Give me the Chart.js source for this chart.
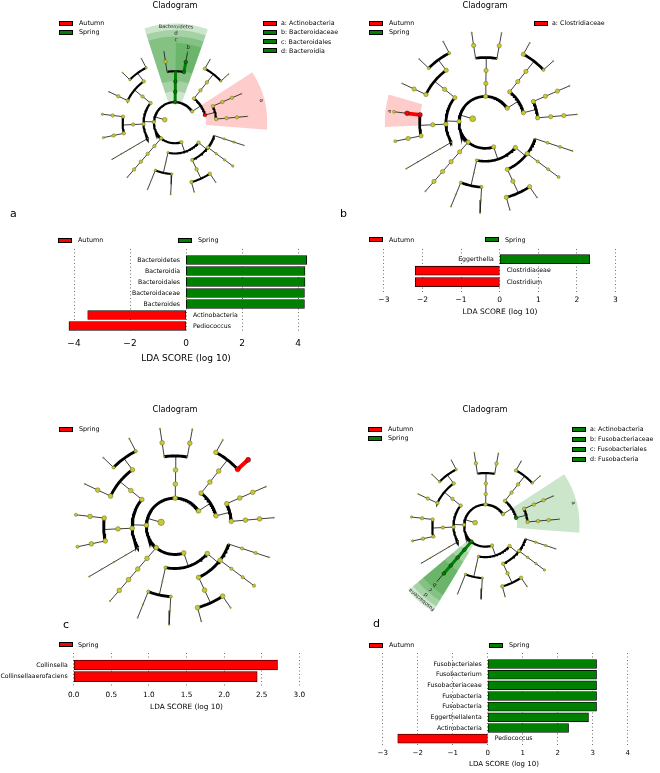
<!DOCTYPE html>
<html>
<head>
<meta charset="utf-8">
<script src="https://cdn.jsdelivr.net/npm/chart.js@4.4.0/dist/chart.umd.min.js"></script>
<style>
  body { margin: 0; background: #fff; font-family: "DejaVu Sans", sans-serif; }
  #page { position: relative; width: 660px; height: 773px; overflow: hidden; background: #fff; }
  canvas { position: absolute; }
  .txt { position: absolute; white-space: nowrap; color: #000; line-height: 1; will-change: transform; }
  .sw { position: absolute; width: 14px; height: 5px; box-sizing: border-box; border: 1px solid #000; }
</style>
</head>
<body>
<div id="page"></div>
<script>
// class colours in the order LEfSe assigns them
const palette = ['#ff0000', '#008000'];

// panel a
const classesA = ['Autumn', 'Spring'];
const taxaA = ['Bacteroidetes', 'Bacteroidia', 'Bacteroidales', 'Bacteroidaceae', 'Bacteroides', 'Actinobacteria', 'Pediococcus'];
const ldaA = [4.31, 4.25, 4.25, 4.23, 4.23, -3.51, -4.18];
const groupA = ['Spring', 'Spring', 'Spring', 'Spring', 'Spring', 'Autumn', 'Autumn'];
const ticksA = [-4, -2, 0, 2, 4];
const cladeA = [['Autumn', 3, 'Actinobacteria'], ['Spring', 2, 'Bacteroidetes'], ['Spring', 3, 'Bacteroidia'],
                ['Spring', 4, 'Bacteroidales'], ['Spring', 5, 'Bacteroidaceae'], ['Spring', 6, 'Bacteroides']];
const keysA = ['Actinobacteria', 'Bacteroidaceae', 'Bacteroidales', 'Bacteroidia'];

// panel b
const classesB = ['Autumn', 'Spring'];
const taxaB = ['Eggerthella', 'Clostridiaceae', 'Clostridium'];
const ldaB = [2.33, -2.19, -2.19];
const groupB = ['Spring', 'Autumn', 'Autumn'];
const ticksB = [-3, -2, -1, 0, 1, 2, 3];
const cladeB = [['Autumn', 5, 'Clostridiaceae'], ['Autumn', 6, 'Clostridium']];
const keysB = ['Clostridiaceae'];

// panel c
const classesC = ['Spring'];
const taxaC = ['Collinsella', 'Collinsellaaerofaciens'];
const ldaC = [2.71, 2.44];
const groupC = ['Spring', 'Spring'];
const ticksC = [0, 0.5, 1, 1.5, 2, 2.5, 3];
const cladeC = [['Spring', 6, 'Collinsella'], ['Spring', 7, 'Collinsella aerofaciens']];
const keysC = [];

// panel d
const classesD = ['Autumn', 'Spring'];
const taxaD = ['Fusobacteriales', 'Fusobacterium', 'Fusobacteriaceae', 'Fusobacteria', 'Fusobacteria', 'Eggerthellalenta', 'Actinobacteria', 'Pediococcus'];
const ldaD = [3.11, 3.11, 3.11, 3.11, 3.11, 2.88, 2.31, -2.57];
const groupD = ['Spring', 'Spring', 'Spring', 'Spring', 'Spring', 'Spring', 'Spring', 'Autumn'];
const ticksD = [-3, -2, -1, 0, 1, 2, 3, 4];
const cladeD = [['Spring', 3, 'Actinobacteria'], ['Spring', 2, 'Fusobacteria'], ['Spring', 3, 'Fusobacteria'],
                ['Spring', 4, 'Fusobacteriales'], ['Spring', 5, 'Fusobacteriaceae'], ['Spring', 6, 'Fusobacterium']];
const keysD = ['Actinobacteria', 'Fusobacteriaceae', 'Fusobacteriales', 'Fusobacteria'];

// taxonomy shared by the four cladograms: [name, node size class, children]
const taxonomy =
  ['Bacteria', 3, [
    ['Actinobacteria', 2, [
      ['Actinobacteria', 2, [
        ['Actinomycetales', 2, [['Actinomycetaceae', 2, [['Actinomyces', 2, [['Actinomyces odontolyticus', 0]]]]]]],
        ['Bifidobacteriales', 2, [['Bifidobacteriaceae', 2, [['Bifidobacterium', 2, [['Bifidobacterium longum', 0]]]]]]]
      ]],
      ['Coriobacteriia', 2, [
        ['Coriobacteriales', 2, [['Coriobacteriaceae', 2, [
          ['Collinsella', 1, [['Collinsella aerofaciens', 0]]],
          ['Eggerthella', 2, [['Eggerthella lenta', 0]]]
        ]]]]
      ]]
    ]],
    ['Bacteroidetes', 2, [
      ['Bacteroidia', 2, [
        ['Bacteroidales', 2, [
          ['Bacteroidaceae', 0, [['Bacteroides', 2, [['Bacteroides uniformis', 0]]]]],
          ['Prevotellaceae', 0, [['Prevotella', 2, [['Prevotella copri', 0]]]]]
        ]]
      ]]
    ]],
    ['Firmicutes', 2, [
      ['Negativicutes', 2, [
        ['Selenomonadales', 2, [
          ['Veillonellaceae', 2, [['Megasphaera', 1, [['Megasphaera elsdenii', 0]]], ['Veillonella', 1, [['Veillonella parvula', 0]]]]],
          ['Acidaminococcaceae', 2, [['Phascolarctobacterium', 2, [['Phascolarctobacterium faecium', 0]]]]]
        ]]
      ]],
      ['Clostridia', 2, [
        ['Clostridiales', 2, [
          ['Clostridiaceae', 2, [['Clostridium', 2, [['Clostridium perfringens', 1]]]]],
          ['Lachnospiraceae', 2, [['Blautia', 2, [['Blautia obeum', 1]]]]]
        ]]
      ]],
      ['Bacilli', 0, [['Lactobacillales', 0, [['Lactobacillaceae', 0, [['Pediococcus', 0, [['Pediococcus acidilactici', 0]]]]]]]]]
    ]],
    ['Fusobacteria', 2, [
      ['Fusobacteria', 2, [['Fusobacteriales', 2, [['Fusobacteriaceae', 2, [['Fusobacterium', 2, [['Fusobacterium nucleatum', 0]]]]]]]]]
    ]],
    ['Proteobacteria', 2, [
      ['Betaproteobacteria', 1, [
        ['Burkholderiales', 0, [
          ['Sutterellaceae', 1, [['Sutterella', 0, [['Sutterella wadsworthensis', 0]]]]],
          ['Alcaligenaceae', 1, [['Parasutterella', 0, [['Parasutterella excrementihominis', 0]]]]]
        ]]
      ]],
      ['Gammaproteobacteria', 2, [
        ['Enterobacteriales', 2, [['Enterobacteriaceae', 2, [['Escherichia', 2, [['Escherichia coli', 0]]], ['Klebsiella', 2, [['Klebsiella pneumoniae', 0]]]]]]],
        ['Pasteurellales', 2, [['Pasteurellaceae', 1, [['Haemophilus', 1, [['Haemophilus parainfluenzae', 1]]]]]]],
        ['Pseudomonadales', 0, [['Moraxellaceae', 1, [['Acinetobacter', 1, [['Acinetobacter sp.', 0]]]]]]]
      ]]
    ]]
  ]];

// ---------------- layout ----------------
const leafStart = 5, leafStep = 18.7;
const D = Math.PI / 180;
const page = document.getElementById('page');

function makeCanvas(left, top, w, h) {
  const c = document.createElement('canvas');
  c.width = w; c.height = h;
  c.style.left = left + 'px'; c.style.top = top + 'px';
  c.style.width = w + 'px'; c.style.height = h + 'px';
  page.appendChild(c);
  return c;
}
function text(str, x, y, size, align) {
  const d = document.createElement('div');
  d.className = 'txt';
  d.textContent = str;
  d.style.left = x + 'px'; d.style.top = y + 'px'; d.style.fontSize = size + 'px';
  const tx = align === 'center' ? '-50%' : align === 'right' ? '-100%' : '0';
  d.style.transform = 'translate(' + tx + ',-50%)';
  page.appendChild(d);
}
function swatch(x, y, color) {
  const d = document.createElement('div');
  d.className = 'sw';
  d.style.left = x + 'px'; d.style.top = (y - 2.5) + 'px'; d.style.background = color;
  page.appendChild(d);
}

function buildTree(spec, level) {
  return { name: spec[0], size: spec[1], level: level, kids: (spec[2] || []).map(s => buildTree(s, level + 1)) };
}
function placeTree(root) {
  let idx = 0;
  (function walk(n) {
    if (!n.kids.length) { n.angle = leafStart + leafStep * idx++; n.lo = n.hi = n.angle; return; }
    n.kids.forEach(walk);
    n.angle = n.kids.reduce((s, k) => s + k.angle, 0) / n.kids.length;
    n.lo = n.kids[0].lo; n.hi = n.kids[n.kids.length - 1].hi;
  })(root);
  return root;
}

function cladogram(box, classes, clade, keys) {
  const root = placeTree(buildTree(taxonomy, 1));
  const all = [];
  (function f(n) { all.push(n); n.kids.forEach(f); })(root);
  const hl = new Map();
  clade.forEach(([cls, lvl, name]) => {
    const node = all.find(n => n.level === lvl && n.name === name);
    if (node) hl.set(node, palette[classes.indexOf(cls)]);
  });

  const s = box.step;
  const pol = (r, deg) => ({ x: r * Math.cos(deg * D), y: r * Math.sin(deg * D) });
  const gap = { x: NaN, y: NaN };
  const thin = [], arcs = [], bold = {};
  all.forEach(n => {
    if (!n.kids.length) return;
    const r0 = n.level * s, r1 = (n.level + 1) * s;
    const seg = [pol(r0, n.angle), pol(r1, n.angle), gap];
    if (hl.has(n) && n.kids.some(k => hl.has(k))) {
      const c = hl.get(n);
      (bold[c] = bold[c] || []).push(...seg);
    } else {
      thin.push(...seg);
    }
    if (n.kids.length > 1) {
      const a0 = n.kids[0].angle, a1 = n.kids[n.kids.length - 1].angle;
      const steps = Math.max(2, Math.ceil((a1 - a0) / 1.5));
      for (let i = 0; i <= steps; i++) arcs.push(pol(r1, a0 + (a1 - a0) * i / steps));
      arcs.push(gap);
    }
  });

  const sizeR = [0.05, 0.11, 0.16, 0.22];
  const nodes = all.map(n => pol(n.level * s, n.angle));
  const radii = all.map(n => (hl.has(n) ? Math.max(0.17, sizeR[n.size]) : sizeR[n.size]) * s);
  const fills = all.map(n => hl.get(n) || '#c4c83a');
  const edges = all.map(n => (hl.has(n) ? '#1a1a1a' : '#6d6d12'));

  const wedges = all.filter(n => hl.has(n) && n.level <= 5).map(n => {
    const outer = (7.65 + (5 - n.level) * 0.62) * s;
    return {
      color: hl.get(n) === palette[0] ? 'rgba(255,0,0,0.2)' : 'rgba(0,128,0,0.2)',
      a0: n.lo - leafStep / 2, a1: n.hi + leafStep / 2,
      inner: n.level * s, outer: outer, labelR: outer - 0.31 * s,
      label: n.level === 2 ? n.name : String.fromCharCode(97 + keys.indexOf(n.name)),
      full: n.level === 2
    };
  });

  const wedgePlugin = {
    id: 'cladeWedges',
    beforeDatasetsDraw(chart) {
      const { ctx, scales: { x, y } } = chart;
      const cx = x.getPixelForValue(0), cy = y.getPixelForValue(0);
      const k = x.getPixelForValue(1) - cx;
      ctx.save();
      wedges.forEach(w => {
        ctx.beginPath();
        ctx.arc(cx, cy, w.outer * k, -w.a0 * D, -w.a1 * D, true);
        ctx.arc(cx, cy, w.inner * k, -w.a1 * D, -w.a0 * D, false);
        ctx.closePath();
        ctx.fillStyle = w.color;
        ctx.fill();
      });
      ctx.restore();
    },
    afterDatasetsDraw(chart) {
      const { ctx, scales: { x, y } } = chart;
      const cx = x.getPixelForValue(0), cy = y.getPixelForValue(0);
      const k = x.getPixelForValue(1) - cx;
      wedges.forEach(w => {
        const mid = (w.a0 + w.a1) / 2;
        ctx.save();
        ctx.translate(cx + w.labelR * k * Math.cos(mid * D), cy - w.labelR * k * Math.sin(mid * D));
        ctx.rotate((90 - mid) * D);
        ctx.font = (w.full ? 5 : 5.5) + 'px "DejaVu Sans"';
        ctx.fillStyle = '#222';
        ctx.textAlign = 'center';
        ctx.textBaseline = 'middle';
        ctx.fillText(w.label, 0, 0);
        ctx.restore();
      });
    }
  };

  const datasets = [
    { data: nodes, pointRadius: radii, pointBackgroundColor: fills, pointBorderColor: edges, pointBorderWidth: 0.5, order: 0 },
    { data: arcs, showLine: true, pointRadius: 0, borderColor: '#000', borderWidth: 0.2 * s, order: 2 },
    { data: thin, showLine: true, pointRadius: 0, borderColor: '#1e1e1e', borderWidth: 0.85, order: 3 }
  ];
  Object.keys(bold).forEach(c => {
    datasets.push({ data: bold[c], showLine: true, pointRadius: 0, borderColor: c, borderWidth: 0.28 * s, order: 1 });
  });

  const canvas = makeCanvas(box.left, box.top, box.w, box.h);
  new Chart(canvas, {
    type: 'scatter',
    data: { datasets: datasets },
    options: {
      responsive: false, animation: false, events: [],
      layout: { padding: 0 },
      plugins: { legend: { display: false }, tooltip: { enabled: false } },
      scales: {
        x: { type: 'linear', display: false, min: box.left - box.cx, max: box.left + box.w - box.cx },
        y: { type: 'linear', display: false, min: box.cy - (box.top + box.h), max: box.cy - box.top }
      }
    },
    plugins: [wedgePlugin]
  });

  // title and legends
  text('Cladogram', box.cx, box.titleY, 8.2, 'center');
  classes.forEach((c, i) => {
    swatch(box.legX, box.legY + i * 9, palette[i]);
    text(c, box.legX + 19.5, box.legY + i * 9, 6.4, 'left');
  });
  keys.forEach((name, i) => {
    const node = [...hl.keys()].find(n => n.name === name && n.level > 2);
    const yy = box.legY + i * box.keyStep;
    swatch(box.keyX, yy, hl.get(node));
    text(String.fromCharCode(97 + i) + ': ' + name, box.keyX + 18, yy, 6.3, 'left');
  });
}

function ldaChart(box, classes, taxa, lda, group, ticks, decimals) {
  const canvas = makeCanvas(box.left, box.top, box.w, box.areaH + box.axisH);
  const colors = group.map(g => palette[classes.indexOf(g)]);
  const min = (box.left - box.zero) / box.ppu;
  const max = (box.left + box.w - box.zero) / box.ppu;
  const yMin = (box.top - box.row0) / box.rowStep;
  const yMax = (box.top + box.areaH - box.row0) / box.rowStep;
  const fixY = sc => { sc.min = yMin; sc.max = yMax; };

  const labelPlugin = {
    id: 'taxaLabels',
    afterDatasetsDraw(chart) {
      const { ctx, scales: { x, y } } = chart;
      const x0 = x.getPixelForValue(0);
      ctx.save();
      ctx.font = '6.2px "DejaVu Sans"';
      ctx.fillStyle = '#000';
      ctx.textBaseline = 'middle';
      taxa.forEach((t, i) => {
        const yy = y.getPixelForValue(i);
        if (lda[i] >= 0) { ctx.textAlign = 'right'; ctx.fillText(t, x0 - 6, yy); }
        else { ctx.textAlign = 'left'; ctx.fillText(t, x0 + 7, yy); }
      });
      ctx.restore();
    }
  };

  new Chart(canvas, {
    type: 'bar',
    data: {
      datasets: [{
        data: lda.map((v, i) => ({ x: v, y: i })),
        backgroundColor: colors, borderColor: '#000', borderWidth: 0.8,
        borderSkipped: false, barThickness: box.barH
      }]
    },
    options: {
      indexAxis: 'y', responsive: false, animation: false, events: [],
      layout: { padding: 0 },
      plugins: { legend: { display: false }, tooltip: { enabled: false } },
      scales: {
        x: {
          type: 'linear', min: min, max: max,
          afterBuildTicks: sc => { sc.ticks = ticks.map(v => ({ value: v })); },
          afterFit: sc => { sc.height = box.axisH; },
          grid: { color: '#333', lineWidth: 0.7, drawTicks: false },
          border: { display: false, dash: [1, 2.5] },
          ticks: {
            padding: box.tickPad, color: '#000', maxRotation: 0,
            font: { family: 'DejaVu Sans', size: box.font },
            callback: v => (v < 0 ? '\u2212' : '') + Math.abs(v).toFixed(decimals)
          },
          title: { display: true, text: 'LDA SCORE (log 10)', color: '#000', padding: 0,
                   font: { family: 'DejaVu Sans', size: box.font } }
        },
        y: {
          type: 'linear', reverse: true, offset: false, bounds: 'data', min: yMin, max: yMax, display: false,
          afterDataLimits: fixY,
          afterBuildTicks: sc => { sc.ticks = []; fixY(sc); }
        }
      }
    },
    plugins: [labelPlugin]
  });

  classes.forEach((c, i) => {
    swatch(box.legX[i], box.legY, palette[i]);
    text(c, box.legX[i] + 19.5, box.legY, 6.4, 'left');
  });
}

// cladograms
cladogram({ left: 0, top: 0, w: 330, h: 228, cx: 175, cy: 123, step: 10.7, titleY: 5,
            legX: 59, legY: 23.3, keyX: 263.3, keyStep: 9.1 }, classesA, cladeA, keysA);
cladogram({ left: 330, top: 0, w: 330, h: 228, cx: 485, cy: 122.7, step: 13.5, titleY: 5,
            legX: 369.3, legY: 23.3, keyX: 534, keyStep: 9.1 }, classesB, cladeB, keysB);
cladogram({ left: 0, top: 390, w: 330, h: 250, cx: 175, cy: 526.7, step: 14.6, titleY: 409.3,
            legX: 59, legY: 429, keyX: 263, keyStep: 9.1 }, classesC, cladeC, keysC);
cladogram({ left: 330, top: 390, w: 330, h: 250, cx: 485, cy: 526, step: 10.9, titleY: 409.3,
            legX: 368.3, legY: 429, keyX: 572.3, keyStep: 10 }, classesD, cladeD, keysD);

// LDA bar charts (canvas spans chosen so the axis title centres where it does in the figure)
ldaChart({ left: 60, w: 252, zero: 186, ppu: 28, top: 249, areaH: 84, row0: 260, rowStep: 11, axisH: 31,
           barH: 9, font: 9, tickPad: 5.6, legX: [58, 178], legY: 240.3 },
         classesA, taxaA, ldaA, groupA, ticksA, 0);
ldaChart({ left: 368, w: 264, zero: 499.7, ppu: 38.6, top: 249, areaH: 43, row0: 259.2, rowStep: 11.5, axisH: 25,
           barH: 9, font: 7.5, tickPad: 3.8, legX: [369.3, 485.3], legY: 239.8 },
         classesB, taxaB, ldaB, groupB, ticksB, 0);
ldaChart({ left: 0, w: 373, zero: 73.7, ppu: 75.2, top: 653, areaH: 34, row0: 665, rowStep: 11.7, axisH: 24,
           barH: 10, font: 7.3, tickPad: 3.9, legX: [58.7], legY: 644.7 },
         classesC, taxaC, ldaC, groupC, ticksC, 1);
ldaChart({ left: 368, w: 272, zero: 487.7, ppu: 35, top: 653, areaH: 93, row0: 664, rowStep: 10.66, axisH: 22,
           barH: 9, font: 7, tickPad: 2.8, legX: [369.3, 489], legY: 645.3 },
         classesD, taxaD, ldaD, groupD, ticksD, 0);

// panel letters
text('a', 10, 213, 11, 'left');
text('b', 340, 213, 11, 'left');
text('c', 63, 624, 11, 'left');
text('d', 373, 623, 11, 'left');
</script>
</body>
</html>
